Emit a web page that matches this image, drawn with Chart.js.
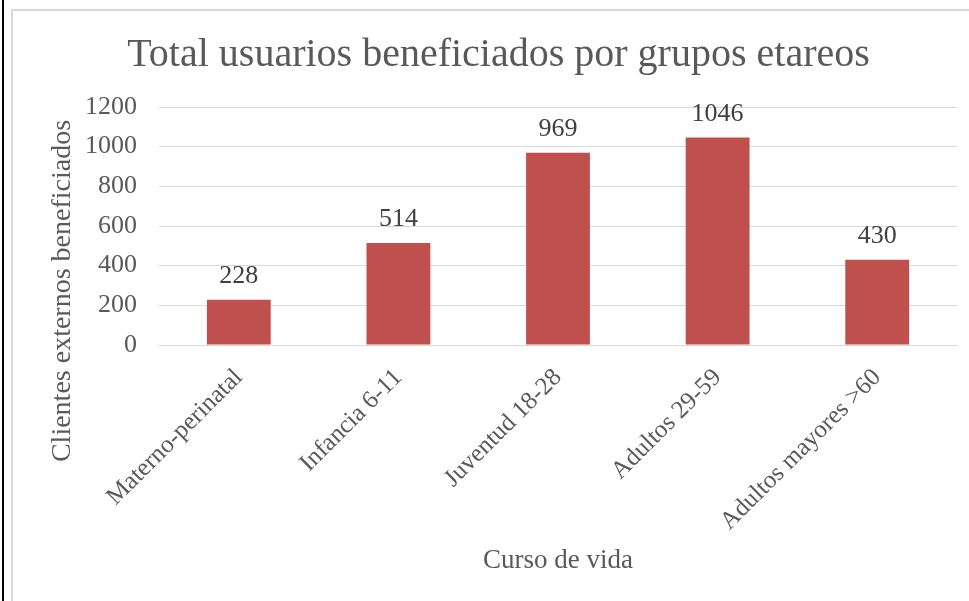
<!DOCTYPE html>
<html>
<head>
<meta charset="utf-8">
<script src="https://cdn.jsdelivr.net/npm/chart.js@4"></script>
<style>
  html, body { margin: 0; padding: 0; background: #fff; }
  #wrap { position: relative; width: 969px; height: 601px; overflow: hidden; }
  #blk { position: absolute; left: 2px; top: 0; width: 2px; height: 601px; background: #000; }
  #box { position: absolute; left: 11px; top: 9px; width: 980px; height: 620px; border-left: 2px solid #d9d9d9; border-top: 2px solid #d9d9d9; }
  canvas { position: absolute; left: 0; top: 0; }
</style>
</head>
<body>
<div id="wrap">
  <div id="blk"></div>
  <div id="box"></div>
  <canvas id="c" width="969" height="601"></canvas>
</div>
<script>
const categories = ["Materno-perinatal", "Infancia 6-11", "Juventud 18-28", "Adultos 29-59", "Adultos mayores >60"];
const values = [228, 514, 969, 1046, 430];
const yTicks = [0, 200, 400, 600, 800, 1000, 1200];
const chartTitle = "Total usuarios beneficiados por grupos etareos";
const yTitle = "Clientes externos beneficiados";
const xTitle = "Curso de vida";

const FONT = "'Liberation Serif', 'Times New Roman', serif";
const TEXT = "#595959";

const valueLabels = {
  id: 'valueLabels',
  afterDatasetsDraw(chart) {
    const ctx = chart.ctx;
    const meta = chart.getDatasetMeta(0);
    ctx.save();
    ctx.font = "26px " + FONT;
    ctx.fillStyle = "#404040";
    ctx.textAlign = "center";
    ctx.textBaseline = "alphabetic";
    meta.data.forEach((bar, i) => {
      ctx.fillText(String(values[i]), bar.x, bar.y - 17);
    });
    ctx.restore();
  }
};

// Y-axis title drawn so it is centred like the original (lower than the scale centre)
const yAxisTitle = {
  id: 'yAxisTitle',
  afterDraw(chart) {
    const ctx = chart.ctx;
    const area = chart.chartArea;
    ctx.save();
    ctx.font = "28px " + FONT;
    ctx.fillStyle = TEXT;
    ctx.textAlign = "center";
    ctx.textBaseline = "middle";
    ctx.translate(area.left - 96, area.bottom - 54);
    ctx.rotate(-Math.PI / 2);
    ctx.fillText(yTitle, 0, 0);
    ctx.restore();
  }
};

new Chart(document.getElementById('c'), {
  type: 'bar',
  data: {
    labels: categories,
    datasets: [{
      data: values,
      backgroundColor: '#C0504D',
      borderWidth: 0,
      barPercentage: 0.4,
      categoryPercentage: 1.0
    }]
  },
  options: {
    responsive: false,
    animation: false,
    devicePixelRatio: 1,
    layout: { padding: { top: 10, left: 40, right: 12, bottom: 20 } },
    plugins: {
      legend: { display: false },
      tooltip: { enabled: false },
      title: {
        display: true,
        text: chartTitle,
        color: TEXT,
        font: { family: FONT, size: 40, weight: 'normal' },
        padding: { top: 21, bottom: 28 }
      }
    },
    scales: {
      y: {
        min: 0, max: 1200,
        afterBuildTicks(scale) { scale.ticks = yTicks.map(v => ({ value: v })); },
        afterFit(scale) { scale.width = 119; },
        border: { display: false },
        grid: { color: '#d9d9d9', lineWidth: 1, drawTicks: false },
        ticks: { color: TEXT, font: { family: FONT, size: 26 }, padding: 22, callback: (v) => String(v) },
        title: { display: false }
      },
      x: {
        afterFit(scale) { scale.height = 236; },
        border: { display: true, color: '#d9d9d9', width: 1 },
        grid: { display: false, drawTicks: false },
        ticks: { color: TEXT, font: { family: FONT, size: 25 }, maxRotation: 45, minRotation: 45, padding: 18 },
        title: {
          display: true, text: xTitle, color: TEXT,
          font: { family: FONT, size: 27 }, padding: { top: 0, bottom: 4 }
        }
      }
    }
  },
  plugins: [valueLabels, yAxisTitle]
});
</script>
</body>
</html>
